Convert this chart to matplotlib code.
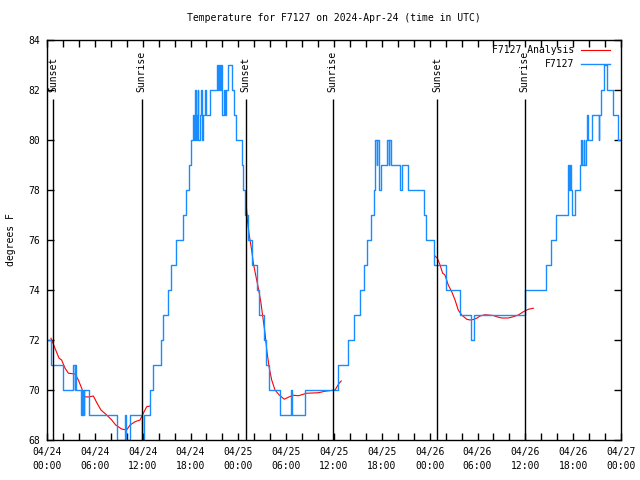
import numpy as np
import matplotlib
matplotlib.use("Agg")
import matplotlib.pyplot as plt
import matplotlib.dates as mdates

# hours after 2024-04-24 00:00 UTC, temps in F (step changes)
obs_hours = [
    0.0, 0.55, 2.05, 3.3, 3.45, 3.5, 3.6, 4.3, 4.4, 4.45, 4.55, 4.6, 4.7, 5.3,
    8.75, 9.75, 9.85, 10.4, 11.9, 12.15, 12.9, 13.35, 14.26, 14.6, 15.22, 15.5,
    16.15, 17.1, 17.4, 17.8, 18.1, 18.35, 18.45, 18.55, 18.65, 18.8, 18.9, 19.0,
    19.2, 19.35, 19.45, 19.6, 19.8, 20.0, 20.45, 21.3, 21.45, 21.55, 21.7, 21.8,
    22.0, 22.2, 22.35, 22.5, 22.7, 23.2, 23.45, 23.7, 24.4, 24.6, 24.8, 25.15,
    25.75, 26.35, 26.65, 27.2, 27.5, 27.9, 29.2, 30.6, 30.75, 32.3, 36.5, 37.7,
    38.5, 39.3, 39.8, 40.2, 40.6, 41.0, 41.15, 41.35, 41.45, 41.6, 41.7, 41.9,
    42.7, 42.85, 42.95, 43.1, 44.3, 44.5, 45.3, 47.25, 47.6, 48.6, 50.1, 51.8,
    53.2, 53.5, 60.0, 62.6, 63.2, 63.85, 65.4, 65.5, 65.6, 65.7, 65.85, 66.2,
    66.9, 67.0, 67.1, 67.3, 67.4, 67.55, 67.7, 67.85, 68.3, 69.2, 69.3, 69.55,
    69.85, 70.25, 71.0, 71.6, 72.0,
]
obs_temps = [
    72, 71, 70, 71, 70, 71, 70, 69, 70, 69, 70, 69, 70, 69,
    68, 69, 68, 69, 68, 69, 70, 71, 72, 73, 74, 75,
    76, 77, 78, 79, 80, 81, 80, 82, 80, 81, 82, 80,
    81, 82, 80, 81, 82, 81, 82, 83, 82, 83, 82, 83,
    81, 82, 81, 82, 83, 82, 81, 80, 79, 78, 77, 76,
    75, 74, 73, 72, 71, 70, 69, 70, 69, 70, 71, 72,
    73, 74, 75, 76, 77, 78, 80, 79, 80, 79, 78, 79,
    80, 79, 80, 79, 78, 79, 78, 77, 76, 75, 74, 73,
    72, 73, 74, 75, 76, 77, 79, 78, 79, 78, 77, 78,
    79, 80, 79, 80, 79, 80, 81, 80, 81, 80, 81, 82,
    83, 82, 81, 80, 80,
]

# analysis curve, three night-time pieces
ana_hours = [
    0.5, 1.0, 1.51, 1.84, 2.26, 2.68, 3.51, 3.93, 4.43, 4.68, 5.18, 5.81, 6.23,
    6.77, 7.49, 8.11, 8.62, 9.37, 9.99, 10.41, 11.04, 11.67, 12.08, 12.5, 12.92,
    None,
    24.96, 25.13, 25.34, 25.67, 25.88, 26.22, 26.51, 26.81, 27.06, 27.35, 27.56,
    27.85, 28.18, 28.6, 29.14, 29.77, 30.4, 30.9, 31.53, 32.57, 34.04, 34.87,
    36.13, 36.6, 36.9,
    None,
    48.67, 48.96, 49.3, 49.63, 49.92, 50.34, 50.76, 51.18, 51.59, 52.02, 52.65,
    53.06, 53.48, 53.9, 54.32, 54.94, 55.36, 55.99, 56.41, 57.04, 57.87, 58.49,
    59.12, 59.75, 60.38, 61.0,
]
ana_temps = [
    72.07, 71.67, 71.27, 71.2, 70.87, 70.67, 70.64, 70.4, 70.0, 69.73, 69.72,
    69.76, 69.5, 69.2, 69.0, 68.8, 68.6, 68.44, 68.4, 68.6, 68.73, 68.8, 69.07,
    69.33, 69.36,
    None,
    77.53, 76.8, 76.27, 75.6, 75.07, 74.53, 74.07, 73.53, 72.93, 72.27, 71.6,
    70.93, 70.4, 70.0, 69.8, 69.63, 69.73, 69.79, 69.77, 69.87, 69.89, 69.95,
    70.0, 70.25, 70.36,
    None,
    75.36, 75.27, 75.0, 74.67, 74.6, 74.2, 73.93, 73.6, 73.2, 73.0, 72.83,
    72.8, 72.82, 72.87, 72.96, 73.01, 73.0, 72.98, 72.93, 72.88, 72.88, 72.93,
    73.0, 73.13, 73.23, 73.27,
]

sunset_hours = [0.8, 24.93, 48.97]
sunrise_hours = [11.88, 35.85, 59.94]

t0 = np.datetime64("2024-04-24T00:00")


def to_time(hours):
    out = []
    for h in hours:
        if h is None:
            out.append(np.datetime64("NaT"))
        else:
            out.append(t0 + np.timedelta64(int(round(h * 60)), "m"))
    return np.array(out, dtype="datetime64[m]")


ana_y = np.array([np.nan if v is None else v for v in ana_temps])

plt.rcParams["font.family"] = "DejaVu Sans Mono"
plt.rcParams["font.size"] = 7

fig = plt.figure(figsize=(6.4, 4.8), dpi=100)
ax = fig.add_axes([47 / 640, 40 / 480, 574 / 640, 400 / 480])

ax.plot(to_time(ana_hours), ana_y, color="#ff0000", lw=0.8, label="F7127 Analysis")
ax.plot(to_time(obs_hours), obs_temps, color="#1a8cff", lw=1.0,
        drawstyle="steps-post", label="F7127")

for h in sunset_hours:
    t = to_time([h])[0]
    ax.vlines(t, 68, 81.65, color="black", lw=1.0)
    ax.text(t, 81.9, "Sunset", rotation=90, ha="center", va="bottom")
for h in sunrise_hours:
    t = to_time([h])[0]
    ax.vlines(t, 68, 81.65, color="black", lw=1.0)
    ax.text(t, 81.9, "Sunrise", rotation=90, ha="center", va="bottom")

ax.set_xlim(t0, t0 + np.timedelta64(72, "h"))
ax.set_ylim(68, 84)
ax.set_yticks(range(68, 85, 2))
ax.xaxis.set_major_locator(mdates.HourLocator(byhour=[0, 6, 12, 18]))
ax.xaxis.set_minor_locator(mdates.HourLocator(byhour=range(0, 24, 2)))
ax.xaxis.set_major_formatter(mdates.DateFormatter("%m/%d\n%H:%M"))
ax.tick_params(which="both", direction="in", top=True, right=True, width=1)
ax.tick_params(which="major", length=5, pad=5)
ax.tick_params(which="minor", length=5)
for s in ax.spines.values():
    s.set_linewidth(1)

ax.set_title("Temperature for F7127 on 2024-Apr-24 (time in UTC)", fontsize=7, pad=14)
ax.set_ylabel("degrees F", labelpad=9)

ax.legend(loc="upper right", bbox_to_anchor=(0.981, 0.987), frameon=False,
          markerfirst=False, borderpad=0, borderaxespad=0, handlelength=3,
          handletextpad=0.7, labelspacing=0.4)

fig.canvas.draw()
for lbl in ax.get_xticklabels():
    lbl.set_linespacing(1.55)

fig.savefig("out.png", dpi=100)
